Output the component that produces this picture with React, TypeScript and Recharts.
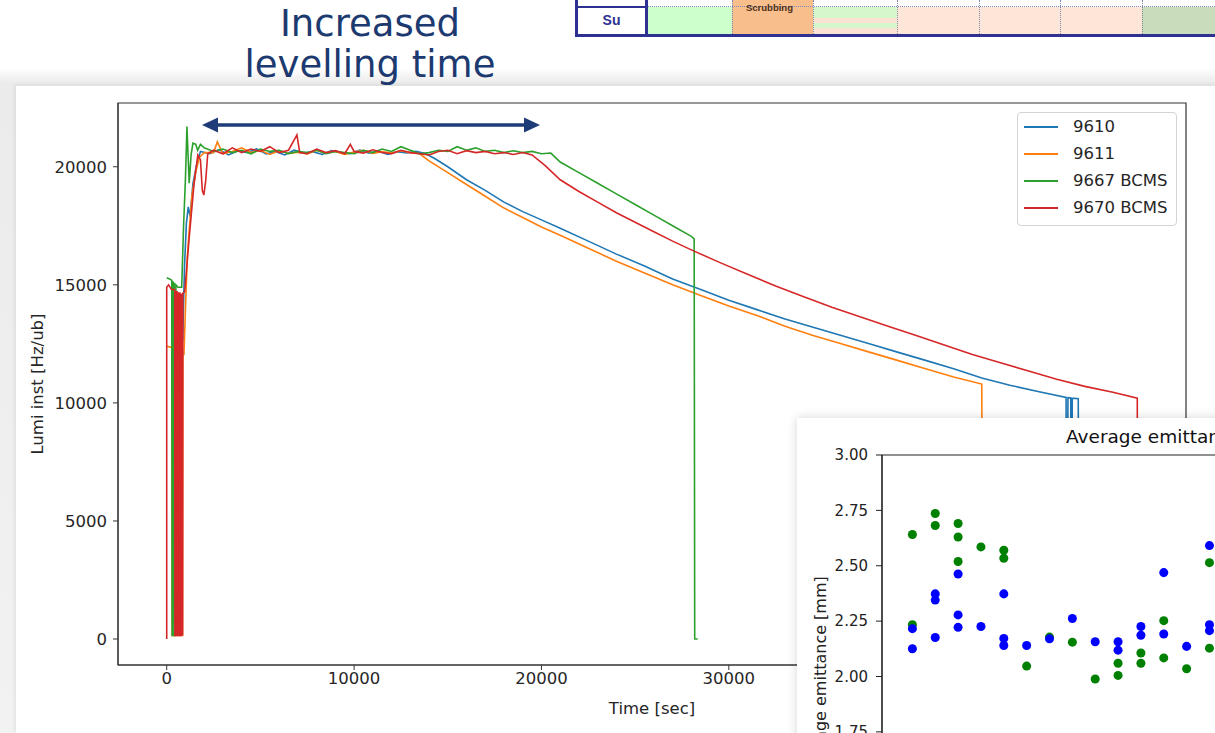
import React from 'react';
import {
  LineChart, Line, XAxis, YAxis, ReferenceArea, Legend,
  ScatterChart, Scatter, ZAxis
} from 'recharts';

// fill 9610
const time9610 = [400, 420, 500, 520, 600, 620, 700, 720, 800, 850, 950, 1050, 1150, 1250, 1400, 1600, 1800,
  2300, 2800, 3300, 3800, 4300, 4800, 5300, 5800, 6300, 6800, 7300, 7800, 8300, 8800, 9300, 9800, 10300, 10800,
  11300, 11800, 12300, 12800, 13300, 13800, 14300, 15000, 16000, 17000, 18000, 19000, 20000, 21000, 22500, 24000,
  25500, 27000, 28500, 30000, 31500, 33000, 34500, 36000, 37500, 39000, 40500, 42000, 43500, 45000, 46500, 48000,
  48030, 48100, 48250, 48280, 48330, 48650, 48680];
const lumi9610 = [14700, 200, 14600, 250, 14500, 200, 14600, 300, 14400, 12600, 15800, 17600, 18300, 17900, 19300, 20100, 20650,
  20550, 20720, 20500, 20680, 20600, 20760, 20540, 20650, 20500, 20700, 20580, 20640, 20520, 20690, 20600, 20550, 20710, 20580,
  20660, 20520, 20640, 20580, 20650, 20560, 20350, 20000, 19450, 19000, 18500, 18100, 17750, 17400, 16850, 16300,
  15800, 15250, 14800, 14350, 13950, 13550, 13200, 12850, 12500, 12150, 11800, 11450, 11050, 10750, 10480, 10230,
  0, 10220, 10210, 0, 10200, 10180, 0];

// fill 9611
const time9611 = [0, 270, 290, 840, 860, 920, 1000, 1100, 1200, 1350, 1550, 1750, 2000, 2500, 2700, 3000, 3500, 4000,
  4500, 5000, 5500, 6000, 6500, 7000, 7500, 8000, 8500, 9000, 9500, 10000, 10500, 11000, 11500, 12000, 12500, 13000,
  13500, 14000, 15000, 16000, 17000, 18000, 19000, 20000, 21000, 22500, 24000, 25500, 27000, 28500, 30000, 31500,
  33000, 34500, 36000, 37500, 39000, 40500, 42000, 43500, 43550];
const lumi9611 = [12400, 12350, 150, 150, 12000, 12050, 14000, 16200, 17300, 18800, 19800, 20400, 20600, 20600, 21050, 20550, 20650, 20800,
  20600, 20700, 20520, 20680, 20560, 20620, 20540, 20700, 20580, 20650, 20520, 20620, 20700, 20560, 20640, 20580, 20680, 20600,
  20550, 20250, 19750, 19250, 18750, 18250, 17850, 17450, 17100, 16550, 16000, 15500, 15000, 14550, 14100, 13700,
  13250, 12850, 12500, 12150, 11800, 11450, 11100, 10800, 0];

// fill 9667 (BCMS)
const time9667 = [0, 150, 250, 270, 290, 330, 350, 400, 420, 470, 490, 600, 800, 900, 1000, 1080, 1150, 1200, 1300, 1400,
  1550, 1650, 1800, 2000, 2500, 3000, 3500, 4000, 4500, 5000, 5500, 6000, 6500, 7000, 7500, 8000, 8500, 9000, 9500, 10000,
  10500, 11000, 11500, 12000, 12500, 13000, 13500, 14000, 14500, 15000, 15500, 16000, 16500, 17000, 17500, 18000, 18500,
  19000, 19500, 20000, 20500, 21000, 22000, 23000, 24000, 25000, 26000, 27000, 28000, 28150, 28180, 28340];
const lumi9667 = [15300, 15250, 15200, 15150, 150, 150, 15100, 15050, 150, 150, 15000, 14900, 14900, 17500, 19500, 21700, 20300, 19300, 20500, 21000,
  20950, 20700, 20950, 20800, 20650, 20750, 20600, 20700, 20550, 20750, 20650, 20700, 20550, 20650, 20600, 20700, 20550, 20650, 20600, 20550,
  20700, 20600, 20750, 20650, 20850, 20700, 20550, 20600, 20700, 20650, 20850, 20700, 20800, 20650, 20700, 20600, 20680,
  20600, 20650, 20550, 20580, 20200, 19750, 19300, 18850, 18400, 17950, 17500, 17050, 16950, 0, 0];

// fill 9670 (BCMS)
const time9670 = [0, 0, 100, 250, 430, 440, 490, 500, 560, 570, 630, 640, 700, 710, 770, 780, 840, 850, 860, 960,
  1200, 1450, 1660, 1800, 1900, 1980, 2080, 2190,
  2500, 3000, 3500, 4000, 4500, 5000, 5500, 6000, 6500, 6950, 7100, 7500, 8000, 8500, 9000, 9500, 9800, 10000,
  10500, 11000, 11500, 12000, 12500, 13000, 13500, 14000, 14500, 15000, 15500, 16000, 16500, 17000, 17500, 18000,
  18500, 19000, 19500,
  20200, 21000, 22000, 23000, 24000, 25000, 26000, 27000, 28000, 29500, 31000, 32500, 34000, 35500, 37000, 38500,
  40000, 41500, 43000, 44500, 46000, 47500, 49000, 50500, 51800, 51820];
const lumi9670 = [0, 14900, 15000, 14800, 14800, 150, 150, 14700, 14700, 150, 150, 14650, 14650, 150, 150, 14600, 14600, 150, 14650, 14700,
  17000, 19200, 20500, 20300, 19000, 18800, 19400, 20550,
  20700, 20550, 20800, 20600, 20750, 20650, 20850, 20600, 20700, 21350, 20600, 20550, 20750, 20600, 20680, 20550, 20950, 20650,
  20580, 20720, 20600, 20550, 20700, 20600, 20550, 20500, 20650, 20700, 20550, 20680, 20600, 20650, 20550, 20600,
  20520, 20600, 20500,
  20050, 19450, 18950, 18500, 18050, 17650, 17250, 16850, 16480, 15950, 15450, 14950, 14500, 14050, 13650, 13250,
  12850, 12450, 12050, 11700, 11350, 11000, 10700, 10450, 10200, 0];

const timeTicks = [0, 10000, 20000, 30000, 40000, 50000];
const lumiTicks = [0, 5000, 10000, 15000, 20000];

// inset: average emittance per fill
const blueFill = [1, 1, 2, 2, 2, 3, 3, 3, 4, 5, 5, 5, 6, 7, 8, 9, 10, 10, 11, 11, 12, 12, 13, 14, 14, 14];
const blueEmit = [2.216, 2.125, 2.373, 2.345, 2.176, 2.463, 2.278, 2.222, 2.226, 2.373, 2.172, 2.140, 2.140, 2.170,
  2.262, 2.157, 2.157, 2.119, 2.226, 2.186, 2.469, 2.192, 2.136, 2.591, 2.234, 2.207];
const greenFill = [1, 1, 2, 2, 3, 3, 3, 4, 5, 5, 6, 7, 8, 9, 10, 10, 11, 11, 12, 12, 13, 14, 14];
const greenEmit = [2.641, 2.234, 2.736, 2.682, 2.691, 2.630, 2.519, 2.585, 2.570, 2.534, 2.047, 2.178, 2.155, 1.989,
  2.060, 2.005, 2.106, 2.060, 2.252, 2.084, 2.035, 2.514, 2.128];
const emitTicks = [1, 1.25, 1.5, 1.75, 2, 2.25, 2.5, 2.75, 3];

const toPoints = (t: number[], v: number[]) => t.map((x, i) => ({ t: x, lumi: v[i] }));
const toXY = (x: number[], y: number[]) => x.map((v, i) => ({ x: v, y: y[i] }));

const series = [
  { name: '9610', color: '#1f77b4', data: toPoints(time9610, lumi9610) },
  { name: '9611', color: '#ff7f0e', data: toPoints(time9611, lumi9611) },
  { name: '9667 BCMS', color: '#2ca02c', data: toPoints(time9667, lumi9667) },
  { name: '9670 BCMS', color: '#d62728', data: toPoints(time9670, lumi9670) },
];

const axisColor = '#333';
const textColor = '#262626';

const LegendBox = () => (
  <div style={{
    width: 160, boxSizing: 'border-box', border: '1px solid #d4d4d4', borderRadius: 4,
    background: 'rgba(255,255,255,0.9)', paddingBottom: 4,
    fontFamily: '"DejaVu Sans", sans-serif', fontSize: 16.5, color: textColor,
  }}>
    {series.map(s => (
      <div key={s.name} style={{ display: 'flex', alignItems: 'center', height: 27 }}>
        <span style={{ display: 'inline-block', width: 34, height: 2, background: s.color, marginLeft: 6, marginRight: 15 }} />
        <span>{s.name}</span>
      </div>
    ))}
  </div>
);

const Schedule = () => {
  const blue = '#2e3192';
  const cells: [number, number, string][] = [
    [648, 732, '#ccffcc'],
    [813, 897, 'linear-gradient(#d4f7cc 0%, #d4f7cc 40%, #fbe3d3 40%, #fbe3d3 58%, #d4f7cc 58%, #d4f7cc 78%, #fbe3d3 78%)'],
    [897, 979, '#fde6d8'],
    [979, 1060, '#fde6d8'],
    [1060, 1142, '#fde6d8'],
    [1142, 1215, '#c9dcbc'],
  ];
  return (
    <div style={{ position: 'absolute', left: 0, top: 0, width: 1215, height: 40 }}>
      {cells.map(([a, b, c]) => (
        <div key={a} style={{ position: 'absolute', left: a, top: 7, width: b - a, height: 27, background: c }} />
      ))}
      <div style={{ position: 'absolute', left: 732, top: 0, width: 81, height: 34, background: '#f8bf8c' }} />
      <div style={{ position: 'absolute', left: 648, top: 6, width: 567, borderTop: '1px dotted #7f88b8' }} />
      {[732, 813, 897, 979, 1060, 1142].map(x => (
        <div key={x} style={{ position: 'absolute', left: x, top: 0, height: 34, borderLeft: '1px dotted #8088aa' }} />
      ))}
      <div style={{ position: 'absolute', left: 746, top: 2, fontSize: 9.5, fontWeight: 'bold', color: '#4a2e1a', fontFamily: '"Liberation Sans Narrow", "Liberation Sans", sans-serif' }}>Scrubbing</div>
      <div style={{ position: 'absolute', left: 578, top: 6, width: 67, height: 2, background: blue }} />
      <div style={{ position: 'absolute', left: 575, top: 0, width: 3, height: 37, background: blue }} />
      <div style={{ position: 'absolute', left: 645, top: 0, width: 3, height: 36, background: blue }} />
      <div style={{ position: 'absolute', left: 575, top: 34, width: 640, height: 3, background: blue }} />
      <div style={{ position: 'absolute', left: 578, top: 12, width: 67, textAlign: 'center', fontSize: 14, fontWeight: 'bold', color: blue, fontFamily: '"Liberation Sans", sans-serif' }}>Su</div>
    </div>
  );
};

const Arrow = () => (
  <svg style={{ position: 'absolute', left: 190, top: 105, overflow: 'visible' }} width={365} height={40}>
    <defs>
      <filter id="arrowGlow" x="-10%" y="-200%" width="120%" height="500%">
        <feGaussianBlur stdDeviation="4" />
      </filter>
    </defs>
    <line x1={14} y1={20} x2={348} y2={20} stroke="rgba(90,110,170,0.35)" strokeWidth={12} filter="url(#arrowGlow)" />
    <line x1={26} y1={20} x2={336} y2={20} stroke="#1e3c78" strokeWidth={3.5} />
    <polygon points="12,20 28,12.5 28,27.5" fill="#1e3c78" />
    <polygon points="350,20 334,12.5 334,27.5" fill="#1e3c78" />
  </svg>
);

export default function App() {
  return (
    <div style={{
      position: 'absolute', left: 0, top: 0, width: 1215, height: 733, overflow: 'hidden',
      background: '#fff', fontFamily: '"DejaVu Sans", sans-serif',
    }}>
      <div style={{ position: 'absolute', left: 0, top: 68, width: 1215, height: 665, background: 'linear-gradient(#ffffff, #ebebeb 15px, #f2f2f2)' }} />
      <div style={{ position: 'absolute', left: 16, top: 86, width: 1199, height: 647, background: '#fff', boxShadow: '-1px -1px 4px rgba(0,0,0,0.08)' }} />

      <Schedule />

      <div style={{
        position: 'absolute', left: 200, top: 3, width: 340, textAlign: 'center',
        fontFamily: '"Comic Sans MS", "DejaVu Sans", sans-serif', fontSize: 37, lineHeight: '41px', color: '#1c3a70',
      }}>
        Increased<br />levelling time
      </div>

      <Arrow />

      <div style={{ position: 'absolute', left: 16, top: 86 }}>
        <LineChart width={1199} height={647} margin={{ top: 17, right: 29, left: 0, bottom: 0 }}>
          <XAxis
            type="number" dataKey="t" domain={[-2600, 54400]} ticks={timeTicks} allowDataOverflow
            height={68} tickSize={5} tickMargin={2} stroke={axisColor}
            tick={{ fill: textColor, fontSize: 16.5 }}
            label={{ value: 'Time [sec]', position: 'insideBottom', offset: 19, fill: textColor, fontSize: 16.5 }}
          />
          <YAxis
            type="number" domain={[-1100, 22700]} ticks={lumiTicks} allowDataOverflow
            width={102} tickSize={5} tickMargin={6} stroke={axisColor}
            tick={{ fill: textColor, fontSize: 16.5 }}
            label={{ value: 'Lumi inst [Hz/ub]', angle: -90, position: 'insideLeft', offset: 21, fill: textColor, fontSize: 16.5, style: { textAnchor: 'middle' } }}
          />
          <ReferenceArea x1={-2600} x2={54400} y1={-1100} y2={22700} fill="none" stroke={axisColor} strokeWidth={1.2} />
          {series.map(s => (
            <Line
              key={s.name} data={s.data} dataKey="lumi" name={s.name} type="linear"
              stroke={s.color} strokeWidth={1.6} dot={false} isAnimationActive={false}
            />
          ))}
          <Legend
            layout="horizontal" align="center" verticalAlign="middle"
            wrapperStyle={{ left: 1001, top: 26, width: 160 }}
            content={() => <LegendBox />}
          />
        </LineChart>
      </div>

      <div style={{ position: 'absolute', left: 797, top: 418, width: 600, height: 420, background: '#fff', boxShadow: '0 0 10px rgba(0,0,0,0.16)' }}>
        <div style={{ position: 'absolute', left: 269, top: 8, whiteSpace: 'nowrap', fontSize: 18.5, color: '#111' }}>
          Average emittance
        </div>
        <ScatterChart width={585} height={480} margin={{ top: 37, right: 0, left: 0, bottom: 0 }}>
          <XAxis type="number" dataKey="x" domain={[-0.33, 21.55]} allowDataOverflow hide />
          <YAxis
            type="number" dataKey="y" domain={[1, 3]} ticks={emitTicks} allowDataOverflow
            width={85} tickSize={6} tickMargin={8} stroke="#222"
            tick={{ fill: '#222', fontSize: 15 }} tickFormatter={(v: number) => v.toFixed(2)}
            label={{ value: 'Average emittance [mm]', angle: -90, position: 'insideLeft', offset: 23, fill: '#222', fontSize: 16, style: { textAnchor: 'middle' } }}
          />
          <ZAxis range={[60, 60]} />
          <ReferenceArea x1={-0.33} x2={21.55} y1={1} y2={3} fill="none" stroke="#222" strokeWidth={1.2} />
          <Scatter data={toXY(greenFill, greenEmit)} fill="#008000" isAnimationActive={false} />
          <Scatter data={toXY(blueFill, blueEmit)} fill="#0000ff" isAnimationActive={false} />
        </ScatterChart>
      </div>
    </div>
  );
}
